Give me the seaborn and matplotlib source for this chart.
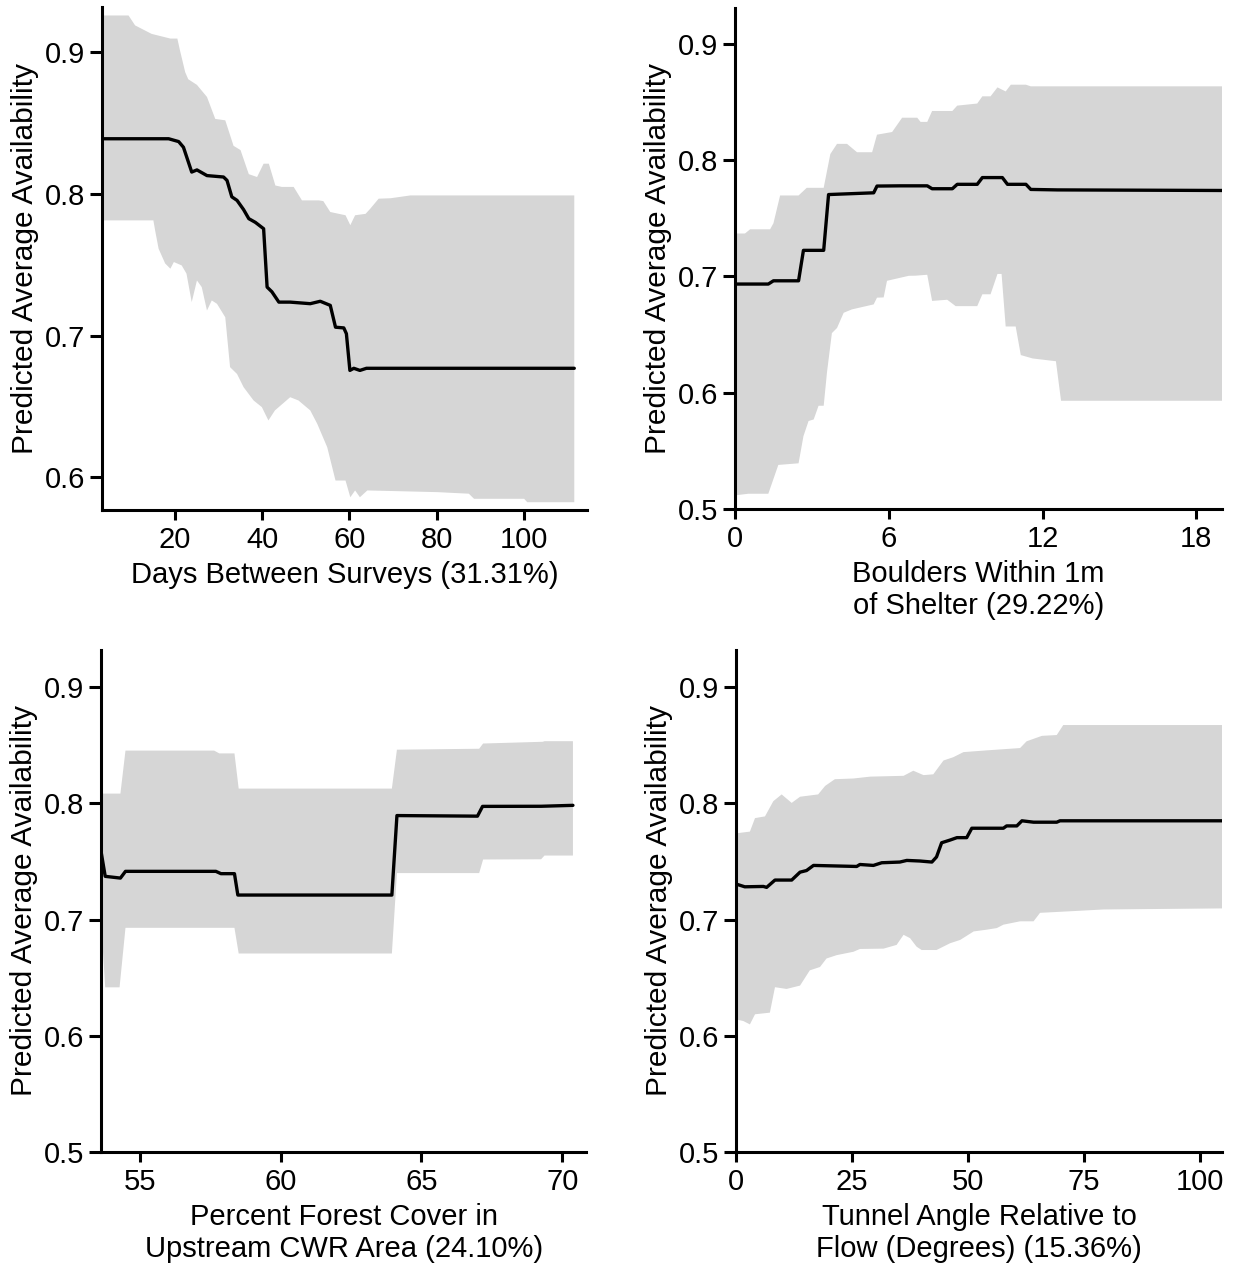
import matplotlib
matplotlib.use("Agg")
import matplotlib.pyplot as plt
import seaborn as sns

sns.set_style("ticks")
plt.rcParams['font.family'] = ['Liberation Sans', 'DejaVu Sans']
plt.rcParams['text.color'] = 'black'
plt.rcParams['axes.labelcolor'] = 'black'

# ---------------------------------------------------------------------------
# Partial dependence values
# ---------------------------------------------------------------------------
# Days between surveys
days_x = [3.2, 18.5, 20.8, 21.9, 23.8, 25.0, 27.3, 31.1, 31.9, 33.0, 34.2, 35.7, 36.9, 38.4,
          40.3, 41.1, 42.2, 43.8, 46.4, 51.0, 53.3, 55.6, 56.8, 58.7, 59.3, 60.1, 61.0, 62.4,
          63.9, 67.9, 111.6]
days_y = [0.839, 0.839, 0.837, 0.833, 0.8155, 0.817, 0.813, 0.812, 0.8096, 0.798, 0.7955, 0.789,
          0.7826, 0.780, 0.7755, 0.7343, 0.731, 0.7237, 0.7237, 0.7226, 0.7243, 0.7214, 0.706,
          0.7055, 0.7014, 0.6755, 0.677, 0.6755, 0.677, 0.677, 0.677]
days_up_x = [3.2, 9.3, 10.8, 14.6, 18.9, 20.5, 21.1, 22.3, 23.0, 25.0, 27.3, 29.2, 31.5, 33.4,
             35.0, 36.9, 38.8, 40.3, 41.5, 43.0, 44.5, 47.2, 49.1, 53.0, 54.0, 55.6, 59.1, 60.2,
             61.3, 63.7, 64.8, 66.7, 69.4, 71.7, 74.0, 111.6]
days_up_y = [0.926, 0.926, 0.919, 0.913, 0.9097, 0.9097, 0.9014, 0.886, 0.881, 0.877, 0.8685,
             0.853, 0.852, 0.834, 0.831, 0.814, 0.812, 0.8214, 0.8214, 0.806, 0.805, 0.805,
             0.7955, 0.7955, 0.795, 0.7873, 0.785, 0.778, 0.785, 0.786, 0.7897, 0.7967, 0.797,
             0.798, 0.799, 0.799]
days_lo_x = [3.2, 15.0, 15.4, 16.2, 17.7, 18.9, 19.7, 21.5, 22.6, 23.8, 25.0, 26.1, 27.3, 28.4,
             29.6, 31.5, 32.6, 34.2, 35.7, 38.0, 39.9, 41.4, 42.9, 46.4, 48.3, 51.0, 52.6, 54.9,
             56.8, 59.1, 60.2, 61.3, 62.4, 64.1, 80.2, 87.4, 88.6, 100.1, 100.8, 111.6]
days_lo_y = [0.7814, 0.7814, 0.7743, 0.7614, 0.751, 0.7473, 0.752, 0.7496, 0.7438, 0.7237, 0.739,
             0.7343, 0.7178, 0.7249, 0.7225, 0.713, 0.6778, 0.673, 0.6637, 0.6543, 0.6496, 0.6402,
             0.6473, 0.6566, 0.6543, 0.6473, 0.6379, 0.6213, 0.5978, 0.5978, 0.586, 0.5908, 0.586,
             0.5908, 0.5896, 0.5885, 0.5849, 0.5849, 0.5825, 0.5825]

# Boulders within 1 m of shelter
boulder_x = [0.0, 1.30, 1.50, 2.48, 2.67, 3.46, 3.65, 5.41, 5.54, 6.45, 7.50, 7.69, 8.48, 8.67,
             9.45, 9.65, 10.43, 10.63, 11.35, 11.54, 12.58, 19.0]
boulder_y = [0.6935, 0.6935, 0.6963, 0.6963, 0.7225, 0.7225, 0.7705, 0.772, 0.7778, 0.778, 0.778,
             0.7755, 0.7755, 0.7793, 0.7793, 0.7851, 0.7851, 0.7793, 0.7793, 0.7749, 0.7745, 0.774]
boulder_up_x = [0.0, 0.39, 0.59, 1.37, 1.50, 1.76, 2.48, 2.80, 3.46, 3.72, 3.98, 4.37, 4.76, 5.35,
                5.54, 6.13, 6.52, 7.11, 7.24, 7.50, 7.69, 8.48, 8.67, 9.45, 9.65, 9.97, 10.24,
                10.56, 10.76, 11.35, 11.54, 19.0]
boulder_up_y = [0.737, 0.737, 0.7406, 0.7406, 0.7458, 0.7697, 0.7697, 0.7763, 0.7763, 0.8054,
                0.8141, 0.8141, 0.8069, 0.8069, 0.822, 0.8243, 0.8366, 0.8366, 0.833, 0.833,
                0.8424, 0.8424, 0.847, 0.8488, 0.855, 0.855, 0.8627, 0.8592, 0.865, 0.865,
                0.8636, 0.8636]
boulder_lo_x = [0.0, 0.52, 1.30, 1.69, 2.48, 2.67, 2.87, 3.07, 3.26, 3.46, 3.59, 3.78, 3.98, 4.24,
                4.56, 5.41, 5.54, 5.80, 5.93, 6.78, 7.04, 7.50, 7.69, 8.28, 8.61, 9.45, 9.65,
                9.97, 10.24, 10.40, 10.56, 10.95, 11.15, 11.61, 12.52, 12.72, 19.0]
boulder_lo_y = [0.5117, 0.5131, 0.5131, 0.5379, 0.5393, 0.5626, 0.5757, 0.577, 0.5888, 0.5888,
                0.6178, 0.6513, 0.6557, 0.6688, 0.6717, 0.676, 0.6818, 0.682, 0.6963, 0.7006,
                0.7007, 0.7015, 0.679, 0.680, 0.6745, 0.6745, 0.6847, 0.6847, 0.7022, 0.7022,
                0.657, 0.657, 0.6324, 0.6295, 0.6271, 0.5931, 0.5931]

# Percent forest cover in upstream CWR area
forest_x = [53.62, 53.77, 54.31, 54.49, 57.70, 57.88, 58.36, 58.48, 63.95, 64.13, 66.99, 67.17,
            69.25, 70.38]
forest_y = [0.759, 0.7372, 0.7357, 0.7415, 0.7415, 0.7395, 0.7395, 0.7211, 0.7211, 0.7895, 0.789,
            0.7974, 0.7975, 0.7983]
forest_up_x = [53.62, 54.31, 54.49, 57.64, 57.82, 58.36, 58.51, 63.95, 64.13, 67.05, 67.19, 69.31,
               69.37, 70.38]
forest_up_y = [0.8084, 0.8084, 0.8454, 0.8454, 0.843, 0.843, 0.8127, 0.8127, 0.8462, 0.847,
               0.8515, 0.853, 0.8535, 0.8535]
forest_lo_x = [53.62, 53.77, 54.28, 54.49, 58.36, 58.51, 63.95, 64.13, 67.05, 67.19, 69.25, 69.37,
               70.38]
forest_lo_y = [0.70, 0.6417, 0.6417, 0.6929, 0.6929, 0.6708, 0.6708, 0.74, 0.74, 0.7517, 0.7519,
               0.7551, 0.7551]

# Tunnel angle relative to flow
angle_x = [0.0, 1.9, 5.9, 6.6, 8.4, 12.0, 13.8, 15.2, 16.7, 26.0, 26.7, 29.6, 31.4, 35.3, 36.8,
           39.6, 42.2, 43.2, 44.3, 46.1, 47.6, 49.7, 50.8, 57.6, 58.3, 60.5, 61.6, 64.1, 69.1,
           69.8, 104.7]
angle_y = [0.7306, 0.7282, 0.7285, 0.7277, 0.734, 0.734, 0.7408, 0.7422, 0.7466, 0.7457, 0.7474,
           0.7466, 0.7489, 0.7495, 0.7509, 0.7504, 0.7495, 0.7539, 0.7661, 0.7684, 0.7705, 0.7705,
           0.7786, 0.7786, 0.7806, 0.7806, 0.785, 0.7838, 0.7838, 0.785, 0.785]
angle_up_x = [0.0, 3.0, 4.1, 6.25, 8.05, 9.84, 12.0, 13.8, 17.7, 19.2, 21.3, 25.3, 28.9, 36.1,
              38.2, 40.4, 42.5, 44.7, 46.8, 49.0, 54.0, 61.2, 62.6, 65.9, 69.1, 70.5, 104.7]
angle_up_y = [0.7742, 0.7757, 0.7873, 0.7888, 0.8019, 0.8077, 0.8004, 0.8057, 0.8077, 0.815,
              0.8208, 0.8214, 0.823, 0.8237, 0.8281, 0.8243, 0.825, 0.8369, 0.8397, 0.8441,
              0.8456, 0.8476, 0.8534, 0.8581, 0.8588, 0.8674, 0.8674]
angle_lo_x = [0.0, 1.58, 3.0, 4.1, 7.3, 8.4, 10.9, 13.8, 15.9, 18.1, 19.5, 21.7, 25.3, 26.7, 31.8,
              34.6, 36.1, 37.5, 38.9, 40.0, 43.2, 46.1, 48.3, 51.2, 54.0, 56.2, 57.6, 61.2, 64.1,
              65.5, 72.7, 79.2, 104.7]
angle_lo_y = [0.6141, 0.6127, 0.6098, 0.6185, 0.6199, 0.6418, 0.6403, 0.6432, 0.6563, 0.6592,
              0.6665, 0.6694, 0.6723, 0.6747, 0.675, 0.6782, 0.6869, 0.684, 0.6767, 0.6738,
              0.6738, 0.6796, 0.6825, 0.6898, 0.6913, 0.6927, 0.6956, 0.6985, 0.6985, 0.7058,
              0.7073, 0.7087, 0.7096]

YLABEL = "Predicted Average Availability"
BAND = "#d6d6d6"
FS = 21


def draw_panel(ax, mx, my, ux, uy, lx, ly, xlim, ylim, xticks, yticks, xlabel):
    # confidence band as one polygon: upper edge left->right, lower edge right->left
    ax.fill(list(ux) + list(lx)[::-1], list(uy) + list(ly)[::-1], color=BAND, lw=0, zorder=1)
    sns.lineplot(x=mx, y=my, ax=ax, color="black", lw=2.4, estimator=None, sort=False, zorder=3)
    ax.set_xlim(*xlim)
    ax.set_ylim(*ylim)
    ax.set_xticks(xticks)
    ax.set_yticks(yticks)
    ax.set_yticklabels(["%.1f" % v for v in yticks])
    ax.set_xlabel(xlabel, fontsize=FS, labelpad=5, linespacing=1.18, color="black")
    ax.set_ylabel(YLABEL, fontsize=FS + 0.5, labelpad=4, color="black")
    ax.tick_params(axis="both", which="major", direction="out", width=2.2,
                   labelsize=FS, colors="black")
    ax.tick_params(axis="x", length=7.5, pad=4)
    ax.tick_params(axis="y", length=9, pad=3)
    sns.despine(ax=ax)
    for side in ("left", "bottom"):
        ax.spines[side].set_linewidth(2.2)
        ax.spines[side].set_color("black")
        ax.spines[side].set_capstyle("projecting")


fig = plt.figure(figsize=(12.33, 12.68), dpi=100)
ax1 = fig.add_axes([0.0827, 0.5978, 0.3933, 0.3967])
ax2 = fig.add_axes([0.5961, 0.5986, 0.3950, 0.3951])
ax3 = fig.add_axes([0.0819, 0.0915, 0.3935, 0.3959])
ax4 = fig.add_axes([0.5969, 0.0915, 0.3942, 0.3959])

draw_panel(ax1, days_x, days_y, days_up_x, days_up_y, days_lo_x, days_lo_y,
           (3.2, 114.5), (0.577, 0.932), [20, 40, 60, 80, 100], [0.6, 0.7, 0.8, 0.9],
           "Days Between Surveys (31.31%)")
draw_panel(ax2, boulder_x, boulder_y, boulder_up_x, boulder_up_y, boulder_lo_x, boulder_lo_y,
           (0, 19.0), (0.5, 0.931), [0, 6, 12, 18], [0.5, 0.6, 0.7, 0.8, 0.9],
           "Boulders Within 1m\nof Shelter (29.22%)")
draw_panel(ax3, forest_x, forest_y, forest_up_x, forest_up_y, forest_lo_x, forest_lo_y,
           (53.62, 70.85), (0.5, 0.932), [55, 60, 65, 70], [0.5, 0.6, 0.7, 0.8, 0.9],
           "Percent Forest Cover in\nUpstream CWR Area (24.10%)")
draw_panel(ax4, angle_x, angle_y, angle_up_x, angle_up_y, angle_lo_x, angle_lo_y,
           (0, 104.7), (0.5, 0.932), [0, 25, 50, 75, 100], [0.5, 0.6, 0.7, 0.8, 0.9],
           "Tunnel Angle Relative to\nFlow (Degrees) (15.36%)")

fig.savefig("out.png", dpi=100, facecolor="white")
